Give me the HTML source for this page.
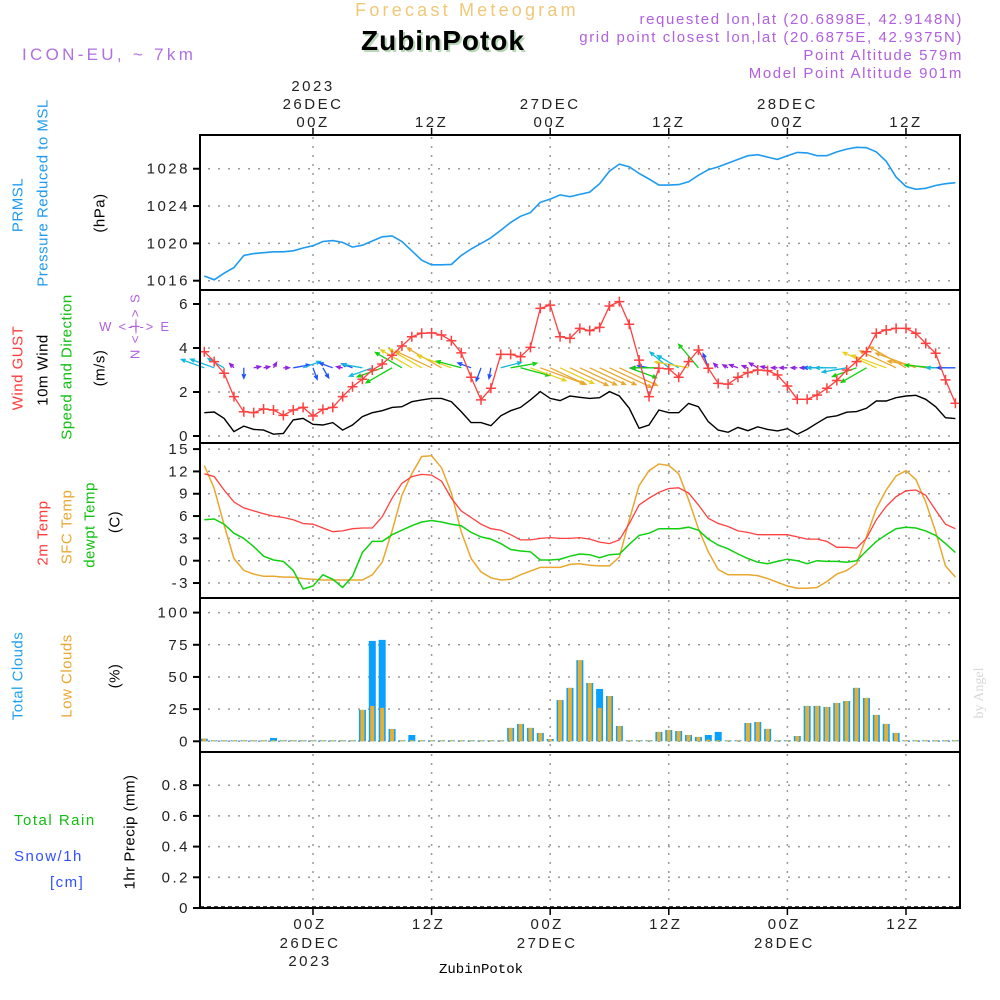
<!DOCTYPE html>
<html><head><meta charset="utf-8"><title>Meteogram ZubinPotok</title>
<style>
html,body{margin:0;padding:0;background:#fff;}
svg{display:block;font-family:"Liberation Sans",sans-serif;}
.tk{font-size:15px;fill:#222;letter-spacing:2.5px;}
.lb{font-size:15px;letter-spacing:0.5px;}
</style></head><body>
<svg id="chart" width="1000" height="1000" viewBox="0 0 1000 1000" xmlns="http://www.w3.org/2000/svg">
<rect x="0" y="0" width="1000" height="1000" fill="#fff"/>
<text x="467" y="16" text-anchor="middle" font-size="18" fill="#f0c878" letter-spacing="3.2">Forecast Meteogram</text>
<text x="445" y="52" text-anchor="middle" font-size="28" font-weight="bold" fill="#b8d8b8" letter-spacing="1">ZubinPotok</text>
<text x="443" y="50" text-anchor="middle" font-size="28" font-weight="bold" fill="#000" letter-spacing="1">ZubinPotok</text>
<text x="22" y="60" font-size="17" fill="#b070e0" letter-spacing="3.3">ICON-EU, ~ 7km</text>
<g font-size="15" fill="#b060e0" text-anchor="end" letter-spacing="1.6">
<text x="963" y="24">requested lon,lat (20.6898E, 42.9148N)</text>
<text x="963" y="42">grid point closest lon,lat (20.6875E, 42.9375N)</text>
<text x="963" y="60">Point Altitude 579m</text>
<text x="963" y="78">Model Point Altitude 901m</text>
</g>
<!-- left labels -->
<g class="lb" dominant-baseline="central" text-anchor="middle">
<text transform="translate(18,205) rotate(-90)" fill="#1e9bf0">PRMSL</text>
<text transform="translate(43,193) rotate(-90)" fill="#1e9bf0">Pressure Reduced to MSL</text>
<text transform="translate(100,213) rotate(-90)" fill="#000">(hPa)</text>
<text transform="translate(18,368) rotate(-90)" fill="#ff3c3c">Wind GUST</text>
<text transform="translate(43,370) rotate(-90)" fill="#000">10m Wind</text>
<text transform="translate(67,367) rotate(-90)" fill="#10c010">Speed and Direction</text>
<text transform="translate(100,368) rotate(-90)" fill="#000">(m/s)</text>
<text transform="translate(43,533) rotate(-90)" fill="#ff3c3c">2m Temp</text>
<text transform="translate(67,527) rotate(-90)" fill="#e8a830">SFC Temp</text>
<text transform="translate(90,525) rotate(-90)" fill="#10c010">dewpt Temp</text>
<text transform="translate(115,522) rotate(-90)" fill="#000">(C)</text>
<text transform="translate(18,676) rotate(-90)" fill="#1ea0f0">Total Clouds</text>
<text transform="translate(67,676) rotate(-90)" fill="#e8a830">Low Clouds</text>
<text transform="translate(115,676) rotate(-90)" fill="#000">(%)</text>
<text transform="translate(130,832) rotate(-90)" fill="#000">1hr Precip (mm)</text>
<text transform="translate(135,326) rotate(-90)" fill="#b060e0" font-size="13" letter-spacing="1.5">N &lt;-I-&gt; S</text>
</g>
<text x="135" y="331" text-anchor="middle" font-size="13" fill="#b060e0" letter-spacing="1.8">W &lt;-I-&gt; E</text>
<text x="14" y="825" font-size="15" fill="#10c010" letter-spacing="1.5">Total  Rain</text>
<text x="14" y="861" font-size="15" fill="#3050ff" letter-spacing="1.5">Snow/1h</text>
<text x="50" y="887" font-size="15" fill="#3050ff" letter-spacing="1.5">[cm]</text>
<text transform="translate(983,693) rotate(-90)" text-anchor="middle" font-size="14" font-family="Liberation Serif, serif" fill="#d8d8d8">by Angel</text>
<text x="481" y="973" text-anchor="middle" font-size="14" font-family="Liberation Mono, monospace" fill="#000">ZubinPotok</text>
<g id="plot"></g>
</svg>
<script>
// ---- data (hours from 00Z 26DEC; first = 13Z 25DEC) ----
const startHour = -11;
const pressure = [1016.5,1016.1,1016.8,1017.4,1018.7,1018.9,1019.0,1019.1,1019.1,1019.2,1019.5,1019.75,1020.2,1020.3,1020.1,1019.6,1019.8,1020.25,1020.7,1020.8,1020.2,1019.2,1018.2,1017.7,1017.7,1017.75,1018.7,1019.4,1020.0,1020.6,1021.4,1022.25,1022.9,1023.3,1024.4,1024.75,1025.2,1025.0,1025.25,1025.5,1026.4,1027.75,1028.5,1028.2,1027.5,1026.9,1026.25,1026.25,1026.3,1026.6,1027.3,1027.9,1028.2,1028.6,1029.0,1029.4,1029.5,1029.25,1029.0,1029.4,1029.75,1029.7,1029.4,1029.4,1029.8,1030.1,1030.3,1030.25,1029.8,1028.8,1027.1,1026.1,1025.8,1025.9,1026.2,1026.4,1026.5];
const gust = [3.83,3.38,2.85,1.79,1.10,1.06,1.23,1.18,0.94,1.18,1.30,0.91,1.21,1.30,1.79,2.24,2.58,3.0,3.27,3.67,4.09,4.51,4.67,4.69,4.59,4.33,3.78,2.67,1.64,2.17,3.71,3.71,3.6,4.03,5.8,5.95,4.51,4.44,4.89,4.79,4.94,5.91,6.11,5.08,3.45,1.79,3.08,3.05,2.67,3.38,3.91,3.08,2.39,2.36,2.67,2.88,3.0,2.97,2.77,2.27,1.67,1.67,1.86,2.17,2.52,3.0,3.38,3.83,4.67,4.82,4.89,4.89,4.67,4.21,3.76,2.55,1.49];
const windSpeed = [1.06,1.09,0.80,0.20,0.45,0.30,0.27,0.08,0.12,0.73,0.80,0.53,0.50,0.61,0.27,0.50,0.88,1.06,1.15,1.30,1.33,1.56,1.64,1.71,1.71,1.56,1.11,0.61,0.61,0.47,0.92,1.15,1.30,1.64,2.02,1.71,1.61,1.82,1.76,1.71,1.74,2.02,1.82,1.26,0.35,0.50,1.18,1.06,1.06,1.48,1.33,0.65,0.27,0.17,0.39,0.24,0.42,0.30,0.23,0.33,0.08,0.30,0.58,0.85,0.92,1.08,1.11,1.26,1.59,1.59,1.74,1.82,1.85,1.67,1.33,0.83,0.79];
const windDir = [160,160,150,135,270,10,10,60,0,10,20,290,300,160,170,160,170,200,200,210,150,150,150,155,150,160,165,160,250,260,15,10,345,340,340,335,335,335,335,335,335,335,335,340,180,170,180,140,150,170,130,110,135,150,160,160,150,170,180,180,180,180,180,180,180,190,200,210,155,160,155,150,160,170,175,180,180];
const temp2m = [11.7,11.3,9.5,7.9,7.1,6.7,6.3,6.0,5.8,5.5,5.0,4.9,4.4,3.9,4.0,4.3,4.4,4.4,5.9,8.4,10.4,11.3,11.6,11.5,10.7,8.4,6.7,5.8,4.9,4.3,4.1,3.5,2.8,2.8,3.0,3.1,3.0,3.0,3.1,2.9,2.5,2.3,2.8,5.0,7.5,8.4,9.2,9.7,9.8,9.1,7.5,5.7,5.0,4.6,4.0,3.8,3.5,3.5,3.5,3.5,3.2,2.9,2.9,2.6,1.8,1.8,1.7,3.0,5.5,7.3,8.6,9.4,9.5,8.8,6.8,4.9,4.3];
const tempSfc = [12.8,9.7,4.8,0.3,-1.3,-1.8,-2.1,-2.1,-2.2,-2.2,-2.4,-2.5,-2.6,-2.6,-2.6,-2.6,-2.6,-1.9,-0.2,4.0,8.8,11.7,14.0,14.1,12.5,9.1,3.9,0.3,-1.5,-2.3,-2.6,-2.5,-1.9,-1.4,-0.9,-0.9,-0.9,-0.5,-0.4,-0.6,-0.7,-0.7,0.5,5.5,10.1,12.1,13.0,12.8,11.7,8.2,4.3,1.2,-1.2,-1.9,-1.9,-1.9,-2.0,-2.4,-2.9,-3.4,-3.7,-3.7,-3.6,-2.8,-1.8,-1.3,-0.4,3.2,7.0,9.5,11.4,12.1,10.9,7.9,3.9,-0.7,-2.2];
const dewpoint = [5.5,5.6,4.9,3.7,3.0,1.9,0.6,0.1,-0.1,-1.3,-3.8,-3.4,-1.9,-2.5,-3.6,-2.1,1.1,2.6,2.6,3.5,4.1,4.7,5.2,5.4,5.2,4.9,4.7,3.8,3.2,2.9,2.3,1.5,1.3,1.2,0.1,0.1,0.2,0.6,0.9,0.8,0.4,0.8,0.9,2.2,3.4,3.7,4.3,4.3,4.3,4.5,4.1,2.9,2.1,1.6,0.9,0.3,-0.2,-0.4,-0.1,0.2,0.0,-0.4,0.0,-0.1,-0.1,-0.2,0.0,1.3,2.6,3.5,4.3,4.5,4.4,4.0,3.4,2.3,1.1];
const totalClouds = [2,0,0,0,0,0,0,2.6,0,0,0,0,0,0,0,0,24.4,78,78.8,9.6,0,4.9,0,0,0,0,0,0,0,0,0,10.4,13.5,10.4,6.5,1.8,32,41.5,63,45.3,40.7,35.2,11.9,0,0,0,7.3,8.8,8.0,4.9,3.4,4.9,7.3,0,0,14.2,15,9.6,0,0,4.1,27.5,27.5,26.7,29.8,31.3,41.5,33.7,20.5,13.5,6.5,0,0,0,0,0,0];
const lowClouds = [2,0,0,0,0,0,0,0,0,0,0,0,0,0,0,0,24.4,27.5,26,9.6,0,0,0,0,0,0,0,0,0,0,0,10.4,13.5,10.4,6.5,1.8,32,41.5,63,45.3,26,35.2,11.9,0,0,0,7.3,8.8,8.0,4.9,3.4,1.3,0.5,0,0,14.2,15,9.6,0,0,4.1,27.5,27.5,26.7,29.8,31.3,41.5,33.7,20.5,13.5,6.5,0,0,0,0,0,0];
const precip = [];
const timeTicks = [0,12,24,36,48,60];
const timeTickLabels = ["00Z","12Z","00Z","12Z","00Z","12Z"];
const dateLabels = ["26DEC","","27DEC","","28DEC",""];
const pressureTicks = [1016,1020,1024,1028];
const windTicks = [0,2,4,6];
const tempTicks = [-3,0,3,6,9,12,15];
const cloudTicks = [0,25,50,75,100];
const precipTicks = [0,0.2,0.4,0.6,0.8];

// ---- axes ----
const X0=200, X1=960;
const xH = h => 313 + h*9.883;
const yP = v => 280.7 - (v-1016)*9.33;
const yW = v => 436 - v*22;
const yT = v => 560.7 - v*7.44;
const yC = v => 741.3 - v*1.287;
const yR = v => 908 - v*153.5;
const panels = [[135,290,'pressure-panel'],[290,443,'wind-panel'],[443,598,'temperature-panel'],[598,752,'cloud-panel'],[752,908,'precip-panel']];

const NS='http://www.w3.org/2000/svg';
const plot=document.getElementById('plot');
function mk(tag, attrs, parent){const e=document.createElementNS(NS,tag);for(const k in attrs)e.setAttribute(k,attrs[k]);(parent||plot).appendChild(e);return e;}

panels.forEach(p=>{
  timeTicks.forEach(t=>{
    const g=mk('line',{x1:xH(t),x2:xH(t),y1:p[0]+2,y2:p[1]-2,stroke:'#999','stroke-width':1.5,'stroke-dasharray':'2 7'});
    
    
  });
});
function hGrid(ticks, yf){
  ticks.forEach(v=>{
    const y=yf(v);
    const l=mk('line',{x1:X0+8,x2:X1-2,y1:y,y2:y,stroke:'#999','stroke-width':1.5,'stroke-dasharray':'2 8'});
    
    
    const tk=mk('line',{x1:X0-7,x2:X0,y1:y,y2:y,stroke:'#000','stroke-width':2});
    
    
    const tx=mk('text',{x:X0-10,y:y+5,'text-anchor':'end',class:'tk'});
    tx.textContent=String(v);
    
    
  });
}
hGrid(pressureTicks,yP);
hGrid(windTicks,yW);
hGrid(tempTicks,yT);
hGrid(cloudTicks,yC);
hGrid(precipTicks,yR);

timeTicks.forEach((t,i)=>{
  const x=xH(t);
  const a=mk('line',{x1:x,x2:x,y1:128,y2:135,stroke:'#000','stroke-width':1.5});
  
  
  const b=mk('line',{x1:x,x2:x,y1:908,y2:915,stroke:'#000','stroke-width':1.5});
  
  
  const t1=mk('text',{x:x,y:127,'text-anchor':'middle',class:'tk'});t1.textContent=timeTickLabels[i];
  
  
  const t2=mk('text',{x:x-3,y:929,'text-anchor':'middle',class:'tk'});t2.textContent=timeTickLabels[i];
  
  
  if(dateLabels[i]){
    const d1=mk('text',{x:x,y:109,'text-anchor':'middle',class:'tk'});d1.textContent=dateLabels[i];
    
    
    const d2=mk('text',{x:x-3,y:948,'text-anchor':'middle',class:'tk'});d2.textContent=dateLabels[i];
    
    
  }
});
const y1=mk('text',{x:xH(0),y:91,'text-anchor':'middle',class:'tk'});y1.textContent='2023';


const y2=mk('text',{x:xH(0)-3,y:966,'text-anchor':'middle',class:'tk'});y2.textContent='2023';



function linePath(arr, yf){return arr.map((v,i)=>(i?'L':'M')+xH(startHour+i).toFixed(1)+','+yf(v).toFixed(1)).join(' ');}

const pl=mk('path',{d:linePath(pressure,yP),fill:'none',stroke:'#1e9bf0','stroke-width':1.6});



const arrowLevel=3.1;
function speedColor(s){if(s<0.45)return '#9020e0';if(s<0.8)return '#2050ff';if(s<1.1)return '#10b8e0';if(s<1.4)return '#10d010';if(s<1.65)return '#e8d020';return '#e8a830';}
windSpeed.forEach((s,i)=>{
  const bx=xH(startHour+i), by=yW(arrowLevel);
  const L=Math.max(6,s*23), a=windDir[i]*Math.PI/180;
  const tx=bx+L*Math.cos(a), ty=by-L*Math.sin(a);
  const c=speedColor(s);
  const h1=a+Math.PI-0.4, h2=a+Math.PI+0.4, hl=4.5;
  const ar=mk('path',{d:`M${bx},${by} L${tx},${ty} M${tx+hl*Math.cos(h1)},${ty-hl*Math.sin(h1)} L${tx},${ty} L${tx+hl*Math.cos(h2)},${ty-hl*Math.sin(h2)}`,fill:'none',stroke:c,'stroke-width':1.3});
  
  
});
const wl=mk('path',{d:linePath(windSpeed,yW),fill:'none',stroke:'#000','stroke-width':1.4});


const gl=mk('path',{d:linePath(gust,yW),fill:'none',stroke:'#ff4040','stroke-width':1.3});


gust.forEach((v,i)=>{
  const x=xH(startHour+i), y=yW(v);
  const m=mk('path',{d:`M${x-5},${y} L${x+5},${y} M${x},${y-5} L${x},${y+5}`,stroke:'#ff4040','stroke-width':1.5});
  
  
});

const so=mk('path',{d:linePath(tempSfc,yT),fill:'none',stroke:'#e8a830','stroke-width':1.5});


const dw=mk('path',{d:linePath(dewpoint,yT),fill:'none',stroke:'#10d010','stroke-width':1.5});


const t2=mk('path',{d:linePath(temp2m,yT),fill:'none',stroke:'#ff4040','stroke-width':1.3});



totalClouds.forEach((v,i)=>{
  const x=xH(startHour+i), y0=yC(0);
  const ht=Math.max(1,y0-yC(v));
  const b=mk('rect',{x:x-3.5,y:y0-ht,width:7,height:ht,fill:'#0aa0ff'});
  
  
  const lv=lowClouds[i];
  const hl=Math.max(1,y0-yC(lv));
  const o=mk('rect',{x:x-2,y:y0-hl,width:4,height:hl,fill:'#e8b030'});
  
  
});

precip.forEach((v,i)=>{
  const x=xH(startHour+i), y0=yR(0);
  const b=mk('rect',{x:x-3.5,y:yR(v),width:7,height:y0-yR(v),fill:'#10d010'});
  
  
});
const pb=mk('line',{x1:X0,x2:X1,y1:yR(0)-1,y2:yR(0)-1,stroke:'#000','stroke-width':1.5,'stroke-dasharray':'4 3'});



panels.forEach(p=>{
  const r=mk('rect',{x:X0,y:p[0],width:X1-X0,height:p[1]-p[0],fill:'none',stroke:'#000','stroke-width':2});
  
  
});
</script>
</body></html>
